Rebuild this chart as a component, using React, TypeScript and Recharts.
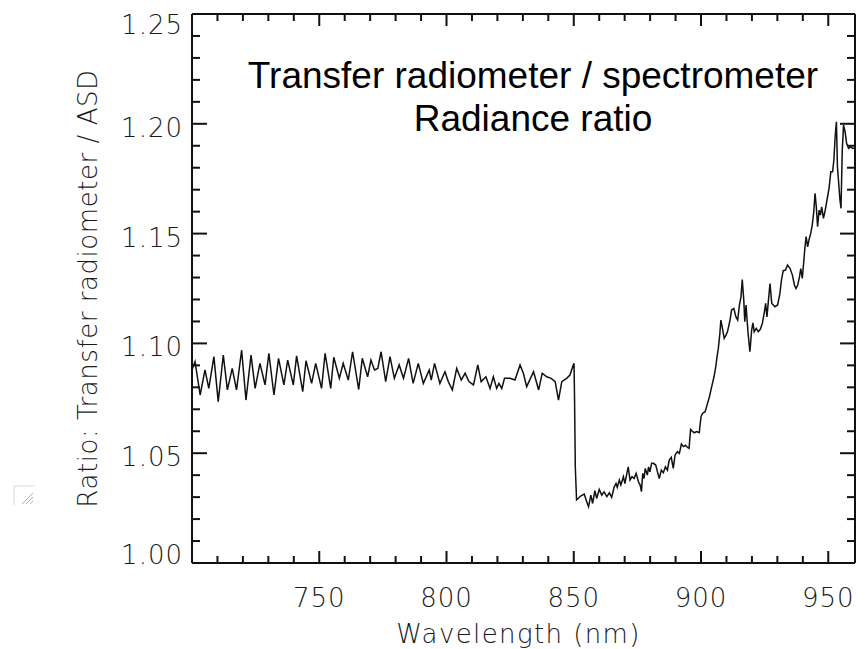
import React from 'react';
import { LineChart, Line, XAxis, YAxis, ReferenceLine } from 'recharts';

// ---- data ----
const wavelengthBelow850 = [
  700.0, 701.2, 703.2, 705.1, 706.6, 708.6, 710.3, 712.3, 713.9, 715.8,
  717.5, 719.5, 721.2, 723.2, 724.8, 726.7, 728.7, 730.2, 732.2, 734.0,
  736.1, 737.6, 739.8, 741.1, 743.5, 744.8, 747.0, 748.6, 750.9, 752.3,
  754.5, 755.7, 757.9, 759.4, 761.4, 763.1, 765.5, 766.9, 769.0, 770.3,
  771.7, 773.0, 774.3, 776.1, 777.8, 779.5, 781.4, 783.1, 785.1, 786.9,
  788.9, 790.9, 793.2, 794.0, 795.3, 797.4, 799.4, 800.7, 802.3, 804.0,
  805.8, 807.3, 808.8, 810.6, 812.3, 813.6, 815.5, 817.1, 818.4, 819.7,
  820.6, 821.7, 822.8, 825.0, 826.9, 828.9, 830.2, 831.5, 834.2, 836.2,
  837.6, 839.4, 841.1, 842.7, 844.0, 845.3, 847.2, 848.5, 849.8, 850.1,
  850.3, 850.6, 851.1,
];
const ratioBelow850 = [
  1.0880, 1.0917, 1.0765, 1.0879, 1.0795, 1.0940, 1.0735, 1.0947, 1.0788, 1.0886,
  1.0788, 1.0970, 1.0742, 1.0947, 1.0795, 1.0909, 1.0811, 1.0955, 1.0765, 1.0932,
  1.0811, 1.0924, 1.0811, 1.0943, 1.0780, 1.0921, 1.0818, 1.0909, 1.0795, 1.0955,
  1.0795, 1.0937, 1.0841, 1.0909, 1.0833, 1.0962, 1.0790, 1.0932, 1.0848, 1.0924,
  1.0879, 1.0886, 1.0962, 1.0826, 1.0940, 1.0841, 1.0902, 1.0841, 1.0932, 1.0818,
  1.0909, 1.0818, 1.0879, 1.0833, 1.0909, 1.0818, 1.0871, 1.0826, 1.0788, 1.0886,
  1.0833, 1.0864, 1.0826, 1.0811, 1.0902, 1.0826, 1.0848, 1.0795, 1.0848, 1.0795,
  1.0818, 1.0795, 1.0841, 1.0841, 1.0833, 1.0902, 1.0864, 1.0803, 1.0871, 1.0788,
  1.0864, 1.0848, 1.0841, 1.0826, 1.0742, 1.0826, 1.0841, 1.0856, 1.0901, 1.0909,
  1.0757, 1.0438, 1.0287,
];
const wavelengthAbove850 = [
  851.4, 852.7, 854.1, 855.1, 855.8, 856.7, 857.4, 858.3, 859.0, 860.0,
  861.0, 861.9, 863.0, 864.0, 864.9, 865.9, 866.6, 867.1, 867.9, 868.5,
  869.5, 870.1, 870.8, 871.4, 872.1, 872.9, 873.7, 874.5, 875.4, 876.1,
  876.6, 877.1, 877.6, 878.1, 878.9, 879.4, 879.9, 880.6, 881.3, 882.2,
  882.9, 883.6, 884.4, 885.2, 886.0, 886.8, 887.5, 888.3, 889.1, 889.8,
  890.7, 891.5, 892.3, 893.1, 893.9, 894.7, 895.3, 895.9, 896.8, 897.3,
  898.3, 899.3, 900.0, 900.6, 901.6, 902.2, 903.3, 904.2, 905.1, 905.8,
  906.2, 906.8, 907.4, 907.8, 908.3, 909.1, 909.8, 910.4, 911.4, 912.0,
  912.9, 913.7, 914.4, 915.1, 915.7, 916.2, 916.8, 917.2, 917.7, 918.1,
  918.5, 919.2, 919.9, 920.4, 920.9, 921.7, 922.5, 923.3, 924.1, 924.9,
  925.4, 925.9, 926.5, 927.1, 927.8, 928.4, 929.0, 930.1, 931.0, 931.6,
  932.3, 933.2, 934.0, 935.0, 935.9, 936.7, 937.3, 938.0, 938.7, 939.2,
  939.8, 940.3, 940.8, 941.3, 941.9, 942.4, 943.1, 943.7, 944.3, 944.8,
  945.3, 945.8, 946.4, 946.9, 947.4, 948.1, 948.8, 949.5, 950.3, 951.0,
  951.7, 952.2, 952.7, 953.2, 953.6, 954.0, 954.6, 955.0, 955.5, 956.0,
  956.6, 957.2, 958.0, 958.8, 959.6, 960.5,
];
const ratioAbove850 = [
  1.0290, 1.0305, 1.0314, 1.0279, 1.0256, 1.0309, 1.0271, 1.0329, 1.0294, 1.0335,
  1.0309, 1.0324, 1.0302, 1.0320, 1.0299, 1.0347, 1.0362, 1.0344, 1.0378, 1.0355,
  1.0393, 1.0362, 1.0405, 1.0438, 1.0378, 1.0393, 1.0385, 1.0408, 1.0370, 1.0355,
  1.0325, 1.0408, 1.0385, 1.0431, 1.0400, 1.0438, 1.0415, 1.0454, 1.0454, 1.0446,
  1.0415, 1.0385, 1.0423, 1.0411, 1.0438, 1.0423, 1.0469, 1.0481, 1.0431, 1.0492,
  1.0507, 1.0499, 1.0542, 1.0530, 1.0536, 1.0526, 1.0522, 1.0608, 1.0598, 1.0593,
  1.0598, 1.0593, 1.0666, 1.0681, 1.0689, 1.0712, 1.0757, 1.0803, 1.0848, 1.0894,
  1.0932, 1.0977, 1.1045, 1.1106, 1.1076, 1.1023, 1.1038, 1.1053, 1.1106, 1.1152,
  1.1159, 1.1121, 1.1106, 1.1175, 1.1212, 1.1291, 1.1197, 1.1099, 1.1175, 1.1106,
  1.1045, 1.0962, 1.1061, 1.1094, 1.1053, 1.1068, 1.1053, 1.1064, 1.1091, 1.1144,
  1.1182, 1.1121, 1.1197, 1.1273, 1.1182, 1.1175, 1.1167, 1.1175, 1.1228, 1.1288,
  1.1331, 1.1334, 1.1357, 1.1341, 1.1311, 1.1266, 1.1250, 1.1266, 1.1304, 1.1341,
  1.1296, 1.1364, 1.1433, 1.1486, 1.1440, 1.1470, 1.1501, 1.1539, 1.1599, 1.1683,
  1.1622, 1.1531, 1.1607, 1.1584, 1.1622, 1.1569, 1.1607, 1.1653, 1.1706, 1.1782,
  1.1782, 1.1835, 1.1941, 1.2009, 1.1804, 1.1744, 1.1653, 1.1615, 1.1880, 1.1994,
  1.1964, 1.1911, 1.1888, 1.1895, 1.1888, 1.1890,
];

const xTickValues = [
  710, 720, 730, 740, 750, 760, 770, 780, 790, 800, 810, 820, 830, 840, 850,
  860, 870, 880, 890, 900, 910, 920, 930, 940, 950,
];
const xLabelValues = [750, 800, 850, 900, 950];
const yTickValues = [
  1.0, 1.01, 1.02, 1.03, 1.04, 1.05, 1.06, 1.07, 1.08, 1.09, 1.1, 1.11, 1.12,
  1.13, 1.14, 1.15, 1.16, 1.17, 1.18, 1.19, 1.2, 1.21, 1.22, 1.23, 1.24, 1.25,
];
const yLabelValues = [1.0, 1.05, 1.1, 1.15, 1.2, 1.25];
const xDomain = [700, 960.5];
const yDomain = [1.0, 1.25];

const xTitle = 'Wavelength (nm)';
const yTitle = 'Ratio: Transfer radiometer / ASD';
const titleLines = ['Transfer radiometer / spectrometer', 'Radiance ratio'];

const chartData = [
  ...wavelengthBelow850.map((w, i) => ({ w, r: ratioBelow850[i] })),
  ...wavelengthAbove850.map((w, i) => ({ w, r: ratioAbove850[i] })),
];

// ---- layout / style ----
const W = 866;
const H = 649;
const MARGIN = { top: 14, right: 11, bottom: 26, left: 122 };
const LEFT_AXIS_W = 70;
const BOTTOM_AXIS_H = 60;
const PLOT_LEFT = MARGIN.left + LEFT_AXIS_W;
const PLOT_TOP = MARGIN.top;
const PLOT_RIGHT = W - MARGIN.right;
const PLOT_BOTTOM = H - MARGIN.bottom - BOTTOM_AXIS_H;
const PLOT_W = PLOT_RIGHT - PLOT_LEFT;
const PLOT_H = PLOT_BOTTOM - PLOT_TOP;

const X_PER_PX = (xDomain[1] - xDomain[0]) / PLOT_W;
const Y_PER_PX = (yDomain[1] - yDomain[0]) / PLOT_H;
const X_TICK_MAJOR_PX = 12;
const X_TICK_MINOR_PX = 7;
const Y_TICK_MAJOR_PX = 15;
const Y_TICK_MINOR_PX = 8;

const AXIS_COLOR = '#111';
const TICK_WIDTH = 2;
const FRAME_WIDTH = 2;
const LABEL_COLOR = '#1a1a1a';
const LABEL_FONT = "'DejaVu Sans', sans-serif";
const LABEL_SIZE = 26;
const LABEL_WEIGHT = 200;

const isIn = (list: number[], v: number) => list.some((l) => Math.abs(l - v) < 1e-6);

const BottomTick = (props: any) => {
  const x = Number(props.x);
  const y = Number(props.y);
  const v = props.payload.value;
  const major = isIn(xLabelValues, v);
  return (
    <g>
      <line x1={x} x2={x} y1={y} y2={y - (major ? X_TICK_MAJOR_PX : X_TICK_MINOR_PX)} stroke={AXIS_COLOR} strokeWidth={TICK_WIDTH} />
      {major ? (
        <text x={x} y={y + 44} textAnchor="middle" fill={LABEL_COLOR} fontFamily={LABEL_FONT} fontSize={LABEL_SIZE} fontWeight={LABEL_WEIGHT} letterSpacing={1}>
          {v}
        </text>
      ) : null}
    </g>
  );
};

const LeftTick = (props: any) => {
  const x = Number(props.x);
  const y = Number(props.y);
  const v = props.payload.value;
  const major = isIn(yLabelValues, v);
  let base = y + 13;
  if (Math.abs(v - yDomain[1]) < 1e-6) base = y + 20;
  if (Math.abs(v - yDomain[0]) < 1e-6) base = y + 1;
  return (
    <g>
      <line x1={x} x2={x + (major ? Y_TICK_MAJOR_PX : Y_TICK_MINOR_PX)} y1={y} y2={y} stroke={AXIS_COLOR} strokeWidth={TICK_WIDTH} />
      {major ? (
        <text x={x - 9} y={base} textAnchor="end" fill={LABEL_COLOR} fontFamily={LABEL_FONT} fontSize={LABEL_SIZE} fontWeight={LABEL_WEIGHT} letterSpacing={1}>
          {v.toFixed(2)}
        </text>
      ) : null}
    </g>
  );
};

export default function App() {
  const plotCx = (PLOT_LEFT + PLOT_RIGHT) / 2;
  const plotCy = (PLOT_TOP + PLOT_BOTTOM) / 2;

  const topTicks = xTickValues.map((t) => {
    const len = (isIn(xLabelValues, t) ? X_TICK_MAJOR_PX : X_TICK_MINOR_PX) * Y_PER_PX;
    return (
      <ReferenceLine
        key={`xt${t}`}
        ifOverflow="visible"
        segment={[{ x: t, y: yDomain[1] }, { x: t, y: yDomain[1] - len }]}
        stroke={AXIS_COLOR}
        strokeWidth={TICK_WIDTH}
      />
    );
  });
  const rightTicks = yTickValues.map((t) => {
    const len = (isIn(yLabelValues, t) ? Y_TICK_MAJOR_PX : Y_TICK_MINOR_PX) * X_PER_PX;
    return (
      <ReferenceLine
        key={`yr${t}`}
        ifOverflow="visible"
        segment={[{ x: xDomain[1], y: t }, { x: xDomain[1] - len, y: t }]}
        stroke={AXIS_COLOR}
        strokeWidth={TICK_WIDTH}
      />
    );
  });

  return (
    <div style={{ position: 'absolute', left: 0, top: 0, width: W, height: H, background: '#fff' }}>
      <svg
        width={W}
        height={H}
        style={{ position: 'absolute', left: 0, top: 0 }}
      >
        <text x={533} y={88} textAnchor="middle" fontFamily="'Liberation Sans', Arial, sans-serif" fontSize={37} fill="#000">
          {titleLines[0]}
        </text>
        <text x={533} y={131} textAnchor="middle" fontFamily="'Liberation Sans', Arial, sans-serif" fontSize={37} fill="#000">
          {titleLines[1]}
        </text>
        <text x={plotCx - 5} y={643} textAnchor="middle" fill={LABEL_COLOR} fontFamily={LABEL_FONT} fontSize={LABEL_SIZE} fontWeight={LABEL_WEIGHT} letterSpacing={1.4}>
          {xTitle}
        </text>
        <text
          x={0}
          y={0}
          transform={`translate(97, ${plotCy}) rotate(-90)`}
          textAnchor="middle"
          fill={LABEL_COLOR}
          fontFamily={LABEL_FONT}
          fontSize={LABEL_SIZE}
          fontWeight={LABEL_WEIGHT}
          letterSpacing={0.55}
        >
          {yTitle}
        </text>
        <path d="M14 505 L14 486 L34 486" fill="none" stroke="#d8d8d8" strokeWidth={1} />
        <path d="M22 504 L33 493 M26 504 L33 497 M30 504 L33 501" stroke="#b0b0b0" strokeWidth={1} />
      </svg>
      <LineChart width={W} height={H} data={chartData} margin={MARGIN}>
        <XAxis
          dataKey="w"
          type="number"
          domain={xDomain}
          allowDataOverflow
          ticks={xTickValues}
          interval={0}
          tick={BottomTick}
          tickLine={false}
          tickSize={0}
          tickMargin={0}
          height={BOTTOM_AXIS_H}
          axisLine={{ stroke: AXIS_COLOR, strokeWidth: FRAME_WIDTH }}
        />
        <YAxis
          type="number"
          domain={yDomain}
          allowDataOverflow
          ticks={yTickValues}
          interval={0}
          tick={LeftTick}
          tickLine={false}
          tickSize={0}
          tickMargin={0}
          width={LEFT_AXIS_W}
          axisLine={{ stroke: AXIS_COLOR, strokeWidth: FRAME_WIDTH }}
        />
        <ReferenceLine y={yDomain[1]} ifOverflow="visible" stroke={AXIS_COLOR} strokeWidth={FRAME_WIDTH} />
        <ReferenceLine x={xDomain[1]} ifOverflow="visible" stroke={AXIS_COLOR} strokeWidth={FRAME_WIDTH} />
        {topTicks}
        {rightTicks}
        <Line
          type="linear"
          dataKey="r"
          stroke="#111"
          strokeWidth={1.5}
          dot={false}
          activeDot={false}
          isAnimationActive={false}
        />
      </LineChart>
    </div>
  );
}
